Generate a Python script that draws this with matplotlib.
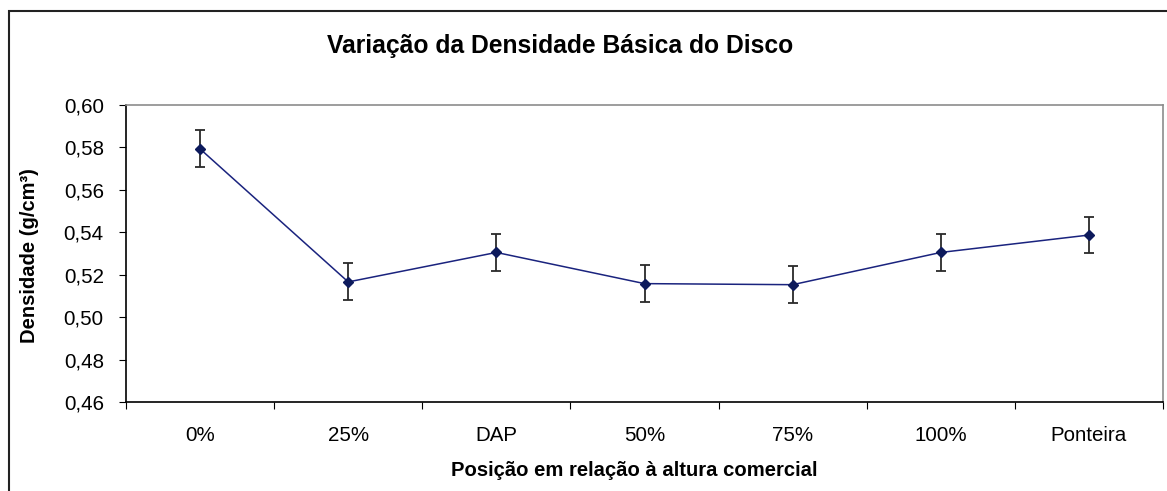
import matplotlib
matplotlib.use("Agg")
import matplotlib.pyplot as plt
from matplotlib.patches import Rectangle

categories = ["0%", "25%", "DAP", "50%", "75%", "100%", "Ponteira"]
densidade = [0.5793, 0.5166, 0.5305, 0.5158, 0.5153, 0.5305, 0.5387]
erro = [0.0087, 0.0087, 0.0087, 0.0087, 0.0087, 0.0087, 0.0085]
yticks = [0.46, 0.48, 0.50, 0.52, 0.54, 0.56, 0.58, 0.60]
ytick_labels = ["0,46", "0,48", "0,50", "0,52", "0,54", "0,56", "0,58", "0,60"]

plt.rcParams['font.family'] = ['Liberation Sans', 'DejaVu Sans']

W, H = 1167, 491
fig = plt.figure(figsize=(W / 100, H / 100), dpi=100)
ax = fig.add_axes([126 / W, 1 - 402 / H, (1163 - 126) / W, (402 - 105) / H])

x = list(range(len(categories)))
ax.errorbar(x, densidade, yerr=erro, fmt='none', ecolor='#2a2a2a',
            elinewidth=1.3, capsize=3.8, capthick=1.3, zorder=2)
ax.plot(x, densidade, color='#1a237e', lw=1.1, marker='D', markersize=5.5,
        markerfacecolor='#0d1a5c', markeredgecolor='#0d1a5c', zorder=3)

ax.set_xlim(-0.5, len(categories) - 0.5)
ax.set_ylim(0.46, 0.60)
ax.set_yticks(yticks)
ax.set_yticklabels(ytick_labels, fontsize=14.8)
ax.set_xticks([i + 0.5 for i in range(-1, len(categories))])
ax.set_xticklabels([])
ax.set_xticks(x, minor=True)
ax.set_xticklabels(categories, minor=True, fontsize=14.8)
ax.tick_params(axis='x', which='major', length=5, direction='out', color='black')
ax.tick_params(axis='x', which='minor', length=0, pad=17)
ax.tick_params(axis='y', length=5, direction='out', pad=11, color='black')

for s in ['left', 'bottom']:
    ax.spines[s].set_color('black')
    ax.spines[s].set_linewidth(1.2)
for s in ['top', 'right']:
    ax.spines[s].set_color('#8c8c8c')
    ax.spines[s].set_linewidth(1.2)

fig.text(560 / W, 1 - 46 / H, "Variação da Densidade Básica do Disco",
         ha='center', va='center', fontsize=17.7, fontweight='bold')
fig.text(634 / W, 1 - 470 / H, "Posição em relação à altura comercial",
         ha='center', va='center', fontsize=14.6, fontweight='bold')
fig.text(30 / W, 1 - 256 / H, "Densidade (g/cm³)", rotation=90,
         ha='center', va='center', fontsize=14.5, fontweight='bold')

fig.patches.append(Rectangle((9 / W, -0.1), 1.2, 1 - 11 / H + 0.1,
                             transform=fig.transFigure, fill=False,
                             edgecolor='#222222', linewidth=1.5))

fig.savefig("out.png", dpi=100)
